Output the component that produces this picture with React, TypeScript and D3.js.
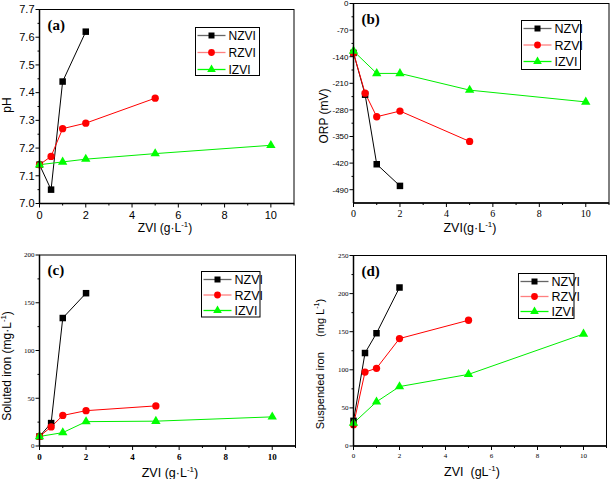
import React from "react";
import * as d3 from "d3";

// ---- data ----
const doseN = [0, 0.5, 1, 2];
const doseR = [0, 0.5, 1, 2, 5];
const doseI = [0, 1, 2, 5, 10];

const phN = [7.14, 7.05, 7.44, 7.62];
const phR = [7.14, 7.17, 7.27, 7.29, 7.38];
const phI = [7.14, 7.15, 7.16, 7.18, 7.21];

const orpN = [-130, -240, -423, -480];
const orpR = [-130, -236, -298, -283, -363];
const orpI = [-125, -184, -184, -228, -259];

const solN = [10, 24, 134, 160];
const solR = [10, 20, 32, 37, 42];
const solI = [10, 14, 25.5, 26, 30.5];

const susN = [33, 122, 148, 208];
const susR = [28, 97, 102, 141, 165];
const susI = [30, 58, 78, 94, 147];

const seriesNames = ["NZVI", "RZVI", "IZVI"];
const xTicks = [0, 2, 4, 6, 8, 10];
const xMinor = [1, 3, 5, 7, 9, 11];
const phTicks = [7.0, 7.1, 7.2, 7.3, 7.4, 7.5, 7.6, 7.7];
const orpTicks = [0, -70, -140, -210, -280, -350, -420, -490];
const solTicks = [0, 50, 100, 150, 200];
const susTicks = [0, 50, 100, 150, 200, 250];

const SANS = "Liberation Sans, Arial, sans-serif";
const SERIF = "Liberation Serif, Times New Roman, serif";

const lineColors = ["#000000", "#ff0000", "#00ee00"];
const markColors = ["#000000", "#ff0000", "#00ff00"];
const legendLineColors = ["#666666", "#ff8080", "#00ff00"];

type PanelCfg = {
  box: { l: number; r: number; t: number; b: number };
  yDomain: [number, number];
  yTicks: number[];
  yFmt: (v: number) => string;
  yTickFont: { family: string; size: number; weight?: string };
  xTickFont: { family: string; size: number; weight?: string };
  xTickDy: number;
  data: number[][];
  label: string;
  yTitle: React.ReactNode;
  yTitleX: number;
  yTitleY: number;
  yTitleSize: number;
  xTitle: React.ReactNode;
  xTitleY: number;
  xTitleX: number;
  xTitleSize: number;
  legend: { x: number; y: number; w: number; h: number; rowH: number; size: number };
};

function Marker({ i, x, y, s }: { i: number; x: number; y: number; s: number }) {
  const types = [d3.symbolSquare, d3.symbolCircle, d3.symbolTriangle];
  const areas = [s * s, Math.PI * (s / 2 + 0.4) ** 2, (s * s * 0.9)];
  const p = d3.symbol().type(types[i]).size(areas[i])();
  return <path d={p || ""} transform={`translate(${x},${y})`} fill={markColors[i]} />;
}

function Panel({ cfg }: { cfg: PanelCfg }) {
  const { box } = cfg;
  const x = d3.scaleLinear().domain([0, 11]).range([box.l, box.r]);
  const y = d3.scaleLinear().domain(cfg.yDomain).range([box.b, box.t]);
  const doses = [doseN, doseR, doseI];
  const line = d3
    .line<[number, number]>()
    .x((d) => x(d[0]))
    .y((d) => y(d[1]));
  const yMinor = cfg.yTicks.slice(1).map((v, k) => (v + cfg.yTicks[k]) / 2);
  const lg = cfg.legend;
  return (
    <g>
      {/* series */}
      {cfg.data.map((vals, i) => {
        const pts = vals.map((v, k) => [doses[i][k], v] as [number, number]);
        return (
          <g key={i}>
            <path d={line(pts) || ""} fill="none" stroke={lineColors[i]} strokeWidth={1} />
          </g>
        );
      })}
      {cfg.data.map((vals, i) =>
        vals.map((v, k) => <Marker key={`${i}-${k}`} i={i} x={x(doses[i][k])} y={y(v)} s={6.5} />)
      )}
      {/* frame */}
      <rect x={box.l} y={box.t} width={box.r - box.l} height={box.b - box.t} fill="none" stroke="#000" strokeWidth={1} />
      <line x1={box.l} x2={box.l} y1={box.t} y2={box.b} stroke="#000" strokeWidth={1.5} />
      <line x1={box.l} x2={box.r} y1={box.b} y2={box.b} stroke="#000" strokeWidth={1.5} />
      {/* x ticks */}
      {xTicks.map((t) => (
        <g key={`xt${t}`}>
          <line x1={x(t)} x2={x(t)} y1={box.b} y2={box.b + 4} stroke="#000" />
          <text
            x={x(t)}
            y={box.b + cfg.xTickDy}
            textAnchor="middle"
            fontFamily={cfg.xTickFont.family}
            fontSize={cfg.xTickFont.size}
            fontWeight={cfg.xTickFont.weight || "normal"}
          >
            {t}
          </text>
        </g>
      ))}
      {xMinor.map((t) => (
        <line key={`xm${t}`} x1={x(t)} x2={x(t)} y1={box.b} y2={box.b + 2} stroke="#000" />
      ))}
      {/* y ticks */}
      {cfg.yTicks.map((t) => (
        <g key={`yt${t}`}>
          <line x1={box.l - 4} x2={box.l} y1={y(t)} y2={y(t)} stroke="#000" />
          <text
            x={box.l - 5}
            y={y(t)}
            dy="0.35em"
            textAnchor="end"
            fontFamily={cfg.yTickFont.family}
            fontSize={cfg.yTickFont.size}
            fontWeight={cfg.yTickFont.weight || "normal"}
          >
            {cfg.yFmt(t)}
          </text>
        </g>
      ))}
      {yMinor.map((t) => (
        <line key={`ym${t}`} x1={box.l - 2} x2={box.l} y1={y(t)} y2={y(t)} stroke="#000" />
      ))}
      {/* panel label */}
      <text x={box.l + 8} y={box.t + 20} fontFamily={SERIF} fontWeight="bold" fontSize={15}>
        {cfg.label}
      </text>
      {/* y title */}
      <text
        transform={`translate(${cfg.yTitleX},${cfg.yTitleY}) rotate(-90)`}
        textAnchor="middle"
        fontFamily={SANS}
        fontSize={cfg.yTitleSize}
      >
        {cfg.yTitle}
      </text>
      {/* x title */}
      <text x={cfg.xTitleX} y={cfg.xTitleY} textAnchor="middle" fontFamily={SANS} fontSize={cfg.xTitleSize}>
        {cfg.xTitle}
      </text>
      {/* legend */}
      <rect x={lg.x} y={lg.y} width={lg.w} height={lg.h} fill="#fff" stroke="#000" strokeWidth={1} />
      {seriesNames.map((n, i) => {
        const ry = lg.y + 8 + i * lg.rowH;
        return (
          <g key={n}>
            <line x1={lg.x + 2} x2={lg.x + 30} y1={ry} y2={ry} stroke={legendLineColors[i]} strokeWidth={1.3} />
            <Marker i={i} x={lg.x + 16} y={ry} s={6} />
            <text x={lg.x + 33} y={ry} dy="0.36em" fontFamily={SANS} fontSize={lg.size}>
              {n}
            </text>
          </g>
        );
      })}
    </g>
  );
}

const sup = (s: string) => (
  <tspan dy={-5} fontSize="0.65em">
    {s}
  </tspan>
);

const panels: PanelCfg[] = [
  {
    box: { l: 39.5, r: 294, t: 9.5, b: 203.5 },
    yDomain: [7.0, 7.7],
    yTicks: phTicks,
    yFmt: d3.format(".1f"),
    yTickFont: { family: SANS, size: 11 },
    xTickFont: { family: SANS, size: 11 },
    xTickDy: 15,
    data: [phN, phR, phI],
    label: "(a)",
    yTitle: "pH",
    yTitleX: 11,
    yTitleY: 105,
    yTitleSize: 12,
    xTitle: (
      <>
        ZVI (g·L{sup("-1")}
        <tspan dy={5}>)</tspan>
      </>
    ),
    xTitleX: 165,
    xTitleY: 232,
    xTitleSize: 12,
    legend: { x: 195.5, y: 27.5, w: 64, h: 48, rowH: 17, size: 12 },
  },
  {
    box: { l: 353.5, r: 609, t: 3.5, b: 203 },
    yDomain: [-525, 0],
    yTicks: orpTicks,
    yFmt: (v) => `${v}`,
    yTickFont: { family: SANS, size: 8 },
    xTickFont: { family: SERIF, size: 10 },
    xTickDy: 14,
    data: [orpN, orpR, orpI],
    label: "(b)",
    yTitle: "ORP  (mV)",
    yTitleX: 328,
    yTitleY: 116,
    yTitleSize: 12,
    xTitle: (
      <>
        ZVI(g·L{sup("-1")}
        <tspan dy={5}>)</tspan>
      </>
    ),
    xTitleX: 470,
    xTitleY: 232,
    xTitleSize: 12.5,
    legend: { x: 521.5, y: 20.5, w: 59, h: 49, rowH: 16.5, size: 12.5 },
  },
  {
    box: { l: 39.5, r: 295.5, t: 255, b: 446 },
    yDomain: [0, 200],
    yTicks: solTicks,
    yFmt: (v) => `${v}`,
    yTickFont: { family: SERIF, size: 7 },
    xTickFont: { family: SERIF, size: 9, weight: "bold" },
    xTickDy: 14,
    data: [solN, solR, solI],
    label: "(c)",
    yTitle: (
      <>
        Soluted iron  (mg·L{sup("-1")}
        <tspan dy={5}>)</tspan>
      </>
    ),
    yTitleX: 11,
    yTitleY: 366,
    yTitleSize: 12,
    xTitle: (
      <>
        ZVI (g·L{sup("-1")}
        <tspan dy={5}>)</tspan>
      </>
    ),
    xTitleX: 170,
    xTitleY: 477,
    xTitleSize: 12.5,
    legend: { x: 201.5, y: 271.5, w: 58.5, h: 45.5, rowH: 15.5, size: 12.5 },
  },
  {
    box: { l: 353.5, r: 606.5, t: 255.5, b: 446 },
    yDomain: [0, 250],
    yTicks: susTicks,
    yFmt: (v) => `${v}`,
    yTickFont: { family: SERIF, size: 7 },
    xTickFont: { family: SERIF, size: 7 },
    xTickDy: 12,
    data: [susN, susR, susI],
    label: "(d)",
    yTitle: (
      <>
        Suspended iron{"\u00a0\u00a0\u00a0\u00a0\u00a0"}(mg L{sup("-1")}
        <tspan dy={5}>)</tspan>
      </>
    ),
    yTitleX: 324,
    yTitleY: 364,
    yTitleSize: 11,
    xTitle: (
      <>
        ZVI{"\u00a0\u00a0"}(gL{sup("-1")}
        <tspan dy={5}>)</tspan>
      </>
    ),
    xTitleX: 472,
    xTitleY: 476,
    xTitleSize: 12.5,
    legend: { x: 518.5, y: 273.5, w: 55.5, h: 45, rowH: 15, size: 12.5 },
  },
];

export default function App() {
  return (
    <svg
      width={610}
      height={479}
      style={{ position: "absolute", left: 0, top: 0, background: "#fff" }}
    >
      <rect width={610} height={479} fill="#fff" />
      {panels.map((p) => (
        <Panel key={p.label} cfg={p} />
      ))}
    </svg>
  );
}
